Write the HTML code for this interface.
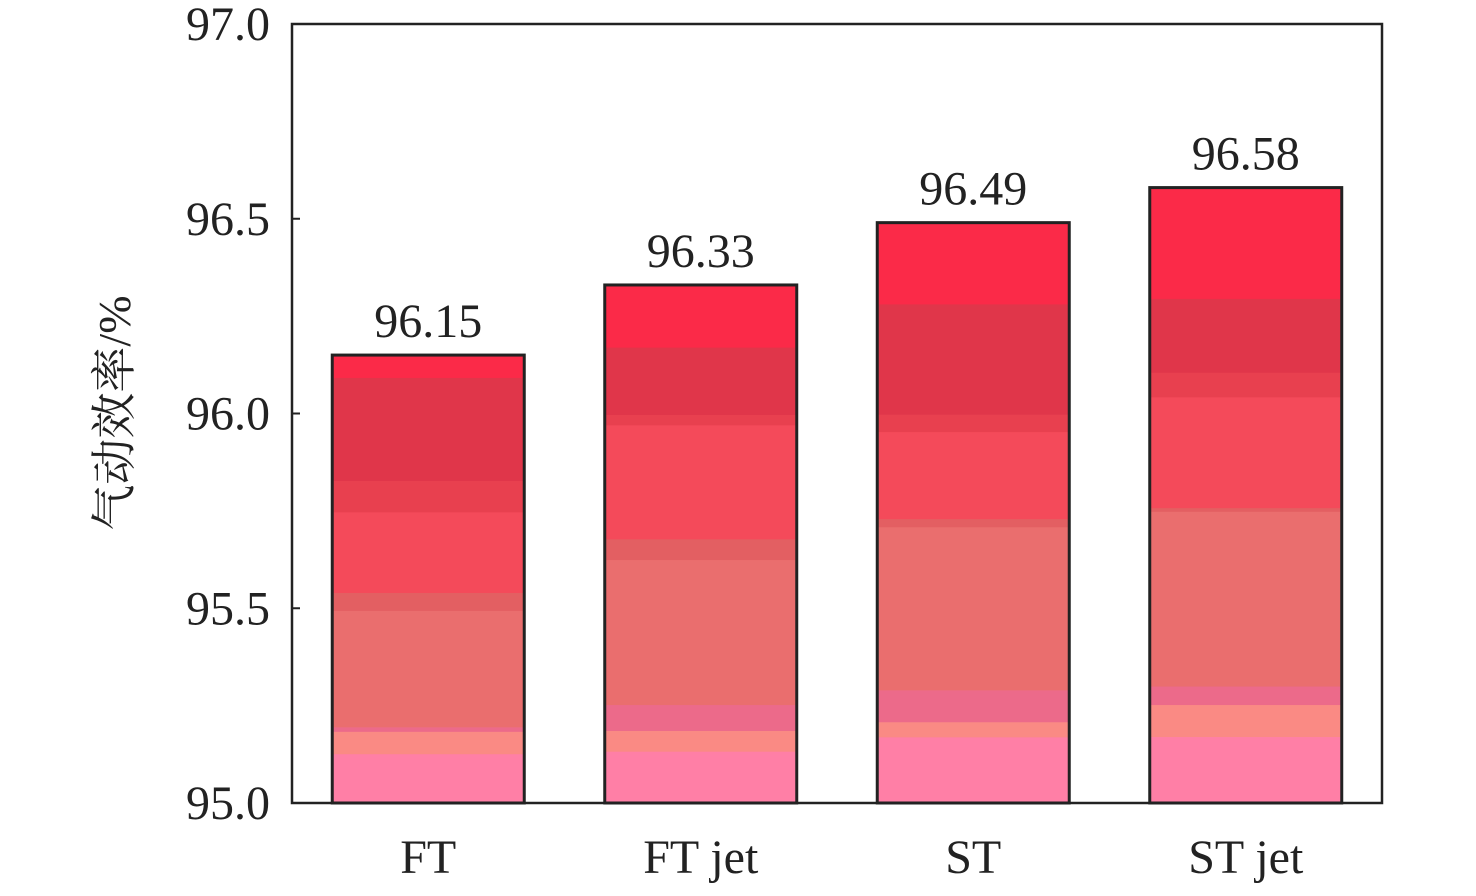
<!DOCTYPE html>
<html><head><meta charset="utf-8"><style>
body{margin:0;background:#fff;}
svg text{font-family:"Liberation Serif","Noto Serif CJK SC",serif;fill:#222;}
</style></head><body>
<svg id="chart" width="1476" height="891">
<g id="bars"></g>
<rect x="292" y="24" width="1090" height="779" fill="none" stroke="#222" stroke-width="2.5"/>
<g id="axes"></g>
<text x="130" y="413" font-size="46" text-anchor="middle" transform="rotate(-90 130 413)" fill="#333">气动效率/%</text>
</svg>
<script>
const categories=["FT","FT jet","ST","ST jet"];
const values=[96.15,96.33,96.49,96.58];
const valueLabels=["96.15","96.33","96.49","96.58"];
const yTicks=[95.0,95.5,96.0,96.5,97.0];
const yTickLabels=["95.0","95.5","96.0","96.5","97.0"];
// band fractions (share of bar height from bottom) and colours
const bandFractions=[
 [0.11,0.16,0.17,0.43,0.47,0.65,0.72,0.95,1],
 [0.10,0.14,0.19,0.47,0.51,0.73,0.75,0.88,1],
 [0.114,0.14,0.195,0.476,0.49,0.64,0.67,0.86,1],
 [0.108,0.16,0.19,0.474,0.48,0.66,0.70,0.82,1]];
const bandColors=["#ff7fa6","#fa8a84","#ec6a8a","#ea6e6e","#e35f62","#f44a5a","#e8404f","#e0364a","#fb2a48"];
const X0=292,X1=1382,Y0=803,Y1=24,VMIN=95,VMAX=97;
const y=v=>Y0-(v-VMIN)/(VMAX-VMIN)*(Y0-Y1);
const step=(X1-X0)/categories.length;
const xc=i=>X0+step*(i+0.5);
const NS="http://www.w3.org/2000/svg";
const bars=document.getElementById('bars'),axes=document.getElementById('axes'),svg=document.getElementById('chart');
function mk(t,a,p){const e=document.createElementNS(NS,t);for(const k in a)e.setAttribute(k,a[k]);p.appendChild(e);return e;}
const BW=192;
categories.forEach((c,i)=>{
 const g=mk('g',{},bars);
 
 
 const h=Y0-y(values[i]);let prev=0;
 bandFractions[i].forEach((f,j)=>{
  mk('rect',{x:xc(i)-BW/2,y:Y0-f*h,width:BW,height:(f-prev)*h+0.5,fill:bandColors[j]},g);prev=f;
 });
 mk('rect',{x:xc(i)-BW/2,y:y(values[i]),width:BW,height:h,fill:'none',stroke:'#222','stroke-width':3},g);
 const t=mk('text',{x:xc(i),y:y(values[i])-18,'font-size':48,'text-anchor':'middle'},svg);
 t.textContent=valueLabels[i];
 
 
 const l=mk('text',{x:xc(i),y:873,'font-size':48,'text-anchor':'middle'},svg);
 l.textContent=c;
 
 
});
yTicks.forEach((v,i)=>{
 mk('line',{x1:X0,x2:X0+8,y1:y(v),y2:y(v),stroke:'#222','stroke-width':2},axes);
 const t=mk('text',{x:270,y:y(v)+16,'font-size':48,'text-anchor':'end'},axes);
 t.textContent=yTickLabels[i];
 
 
});
</script>
</body></html>
